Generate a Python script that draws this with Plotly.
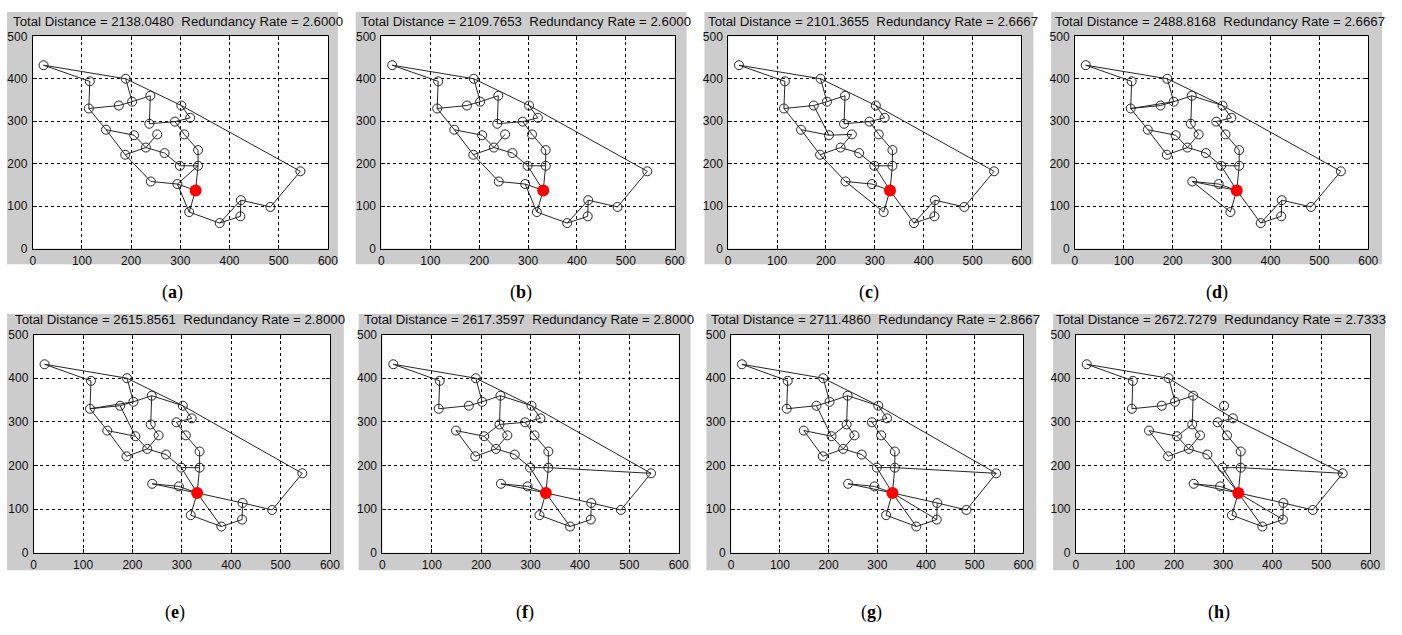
import plotly.graph_objects as go

W, H = 1402, 635

# Node coordinates (shared by all panels); index 23 is the depot (red)
node_x = [22, 116, 189, 114, 175, 202, 239, 302, 320, 237, 289, 149, 206, 253, 308,
          230, 268, 336, 188, 299, 336, 240, 294, 331, 318, 380, 422, 423, 483, 544]
node_y = [432, 394, 400, 330, 337, 346, 360, 337, 308, 294, 299, 280, 267, 269, 269,
          238, 225, 232, 221, 195, 195, 158, 152, 137, 86, 60, 76, 114, 98, 182]
DEPOT = 23

panel_labels = ["a", "b", "c", "d", "e", "f", "g", "h"]
total_distance = ["2138.0480", "2109.7653", "2101.3655", "2488.8168",
                  "2615.8561", "2617.3597", "2711.4860", "2672.7279"]
redundancy_rate = ["2.6000", "2.6000", "2.6667", "2.6667",
                   "2.8000", "2.8000", "2.8667", "2.7333"]

edges_a = [(0, 1), (0, 2), (2, 7), (7, 29), (1, 3), (3, 4), (4, 5), (5, 2), (5, 6), (6, 9),
           (9, 10), (10, 8), (8, 7), (10, 14), (14, 17), (17, 20), (20, 19), (20, 23), (22, 20),
           (3, 11), (11, 18), (11, 12), (12, 15), (13, 15), (18, 15), (15, 16), (16, 19),
           (18, 21), (21, 22), (22, 23), (22, 24), (23, 24), (24, 25), (25, 27), (25, 26),
           (26, 27), (27, 28), (28, 29)]
edges_b = [(0, 1), (0, 2), (2, 7), (7, 29), (1, 3), (3, 4), (4, 5), (5, 2), (5, 6), (6, 9),
           (9, 10), (10, 8), (8, 7), (10, 14), (14, 17), (17, 20), (20, 19), (20, 23), (19, 23),
           (3, 11), (11, 18), (11, 12), (12, 15), (13, 15), (18, 15), (15, 16), (16, 19),
           (18, 21), (21, 22), (22, 23), (22, 24), (23, 24), (24, 25), (25, 27), (25, 26),
           (26, 27), (27, 28), (28, 29)]
edges_c = [(0, 1), (0, 2), (2, 7), (7, 29), (1, 3), (3, 4), (4, 5), (5, 2), (5, 6), (6, 9),
           (9, 10), (10, 8), (8, 7), (10, 14), (14, 17), (17, 20), (20, 19), (20, 23),
           (3, 11), (11, 12), (4, 12), (13, 15), (12, 13), (11, 18), (18, 15), (15, 16),
           (16, 19), (19, 23), (18, 21), (21, 24), (21, 22), (22, 23), (23, 24), (23, 25),
           (25, 27), (25, 26), (26, 27), (27, 28), (28, 29)]
edges_d = [(0, 1), (0, 2), (2, 7), (7, 29), (1, 3), (3, 4), (4, 5), (3, 5), (5, 2), (5, 6),
           (6, 7), (6, 9), (9, 13), (13, 15), (11, 12), (12, 15), (3, 11), (11, 18), (18, 15),
           (15, 16), (16, 19), (19, 23), (10, 8), (8, 7), (10, 14), (14, 17), (17, 20), (19, 20),
           (20, 23), (21, 22), (21, 23), (22, 23), (21, 24), (23, 24), (23, 25), (25, 27),
           (25, 26), (26, 27), (27, 28), (28, 29)]
edges_e = [(0, 1), (0, 2), (2, 7), (7, 29), (2, 5), (1, 3), (3, 4), (3, 5), (4, 5), (4, 12),
           (5, 6), (6, 9), (6, 7), (7, 8), (8, 10), (10, 14), (14, 17), (17, 20), (20, 19),
           (20, 23), (16, 19), (19, 23), (9, 13), (13, 15), (12, 15), (11, 12), (3, 11),
           (11, 18), (18, 15), (15, 16), (21, 22), (21, 23), (22, 23), (23, 24), (23, 25),
           (24, 25), (23, 27), (27, 28), (27, 26), (26, 25), (28, 29)]
edges_f = [(0, 1), (0, 2), (2, 7), (7, 29), (1, 3), (3, 4), (4, 5), (5, 2), (5, 6), (6, 9),
           (6, 7), (7, 8), (9, 10), (10, 8), (10, 14), (14, 17), (17, 20), (19, 20), (20, 29),
           (20, 23), (9, 12), (9, 13), (11, 12), (11, 18), (18, 15), (12, 15), (13, 15),
           (15, 16), (16, 19), (19, 23), (21, 22), (21, 23), (22, 23), (23, 24), (23, 25),
           (24, 25), (23, 27), (27, 28), (27, 26), (26, 25), (28, 29)]
edges_g = [(0, 1), (0, 2), (2, 7), (7, 29), (1, 3), (3, 4), (4, 5), (5, 2), (5, 6), (6, 9),
           (6, 7), (7, 8), (4, 12), (9, 12), (9, 13), (11, 12), (11, 18), (18, 15), (12, 15),
           (13, 15), (15, 16), (16, 19), (19, 23), (10, 8), (10, 14), (14, 17), (17, 20),
           (20, 19), (20, 29), (20, 23), (21, 22), (21, 23), (22, 23), (23, 24), (23, 25),
           (24, 25), (23, 27), (23, 26), (27, 28), (27, 26), (26, 25), (28, 29)]
edges_h = [(0, 1), (0, 2), (2, 5), (2, 8), (8, 29), (1, 3), (3, 4), (4, 5), (5, 6), (6, 9),
           (9, 12), (9, 13), (11, 12), (11, 18), (18, 15), (12, 15), (13, 15), (15, 16),
           (16, 23), (10, 8), (10, 14), (14, 17), (17, 20), (20, 19), (20, 29), (20, 23),
           (19, 23), (21, 22), (21, 23), (22, 23), (23, 24), (24, 25), (23, 25), (23, 26),
           (23, 27), (27, 26), (26, 25), (27, 28), (28, 29)]
all_edges = [edges_a, edges_b, edges_c, edges_d, edges_e, edges_f, edges_g, edges_h]

# Layout geometry (pixels)
plot_boxes = [(30, 328, 30, 247), (382, 678, 30, 247), (732, 1028, 30, 247), (1082, 1378, 30, 247),
              (31, 330, 335, 558), (383, 682, 335, 558), (735, 1030, 335, 558), (1083, 1380, 335, 558)]
gray_boxes = [(4, 338, 5, 263), (356, 690, 5, 263), (708, 1040, 5, 263), (1058, 1392, 5, 263),
              (4, 344, 314, 576), (359, 694, 314, 576), (710, 1043, 314, 576), (1060, 1395, 314, 576)]

def px(x):
    return x / W

def py(y):
    return 1 - y / H

fig = go.Figure()
shapes = []
white_shapes = []
annotations = []
GRAY = "rgb(204,204,204)"
tickfont = dict(family="Arial", size=12, color="#111")

for i in range(8):
    n = i + 1
    xa = "x" if n == 1 else f"x{n}"
    ya = "y" if n == 1 else f"y{n}"
    ex, ey = [], []
    for a, b in all_edges[i]:
        ex += [node_x[a], node_x[b], None]
        ey += [node_y[a], node_y[b], None]
    fig.add_trace(go.Scatter(x=ex, y=ey, mode="lines", line=dict(color="#262626", width=1),
                             xaxis=xa, yaxis=ya, showlegend=False, hoverinfo="skip"))
    ox = [node_x[k] for k in range(len(node_x)) if k != DEPOT]
    oy = [node_y[k] for k in range(len(node_y)) if k != DEPOT]
    fig.add_trace(go.Scatter(x=ox, y=oy, mode="markers",
                             marker=dict(symbol="circle-open", size=9, color="#262626",
                                         line=dict(width=1)),
                             xaxis=xa, yaxis=ya, showlegend=False))
    fig.add_trace(go.Scatter(x=[node_x[DEPOT]], y=[node_y[DEPOT]], mode="markers",
                             marker=dict(symbol="circle", size=12, color="red"),
                             xaxis=xa, yaxis=ya, showlegend=False))

    x0, x1, y0, y1 = plot_boxes[i]
    axis_common = dict(showline=True, linecolor="black", linewidth=1, mirror="ticks",
                       ticks="inside", ticklen=4, tickcolor="black",
                       showgrid=True, gridcolor="black", gridwidth=1, griddash="3px,3px",
                       zeroline=False, tickfont=tickfont, fixedrange=True)
    fig.update_layout(**{
        ("xaxis" if n == 1 else f"xaxis{n}"): dict(domain=[px(x0), px(x1)], range=[0, 600],
                                                   tickvals=[0, 100, 200, 300, 400, 500, 600],
                                                   anchor=ya, ticklabelstandoff=1, **axis_common),
        ("yaxis" if n == 1 else f"yaxis{n}"): dict(domain=[py(y1), py(y0)], range=[0, 500],
                                                   tickvals=[0, 100, 200, 300, 400, 500],
                                                   anchor=xa, ticklabelstandoff=2, **axis_common),
    })

    gx0, gx1, gy0, gy1 = gray_boxes[i]
    shapes.append(dict(type="rect", xref="paper", yref="paper", x0=px(gx0), x1=px(gx1),
                       y0=py(gy1), y1=py(gy0), fillcolor=GRAY, line=dict(width=0), layer="below"))
    white_shapes.append(dict(type="rect", xref="paper", yref="paper", x0=px(x0), x1=px(x1),
                             y0=py(y1), y1=py(y0), fillcolor="white", line=dict(width=0),
                             layer="below"))
    annotations.append(dict(xref="paper", yref="paper", x=px((x0 + x1) / 2 - 2),
                            y=py(y0 - 15), yanchor="middle", xanchor="center", showarrow=False,
                            text=f"Total Distance = {total_distance[i]}  Redundancy Rate = {redundancy_rate[i]}",
                            font=dict(family="Liberation Sans", size=13.25, color="#111")))
    cy = 292 if i < 4 else 619
    annotations.append(dict(xref="paper", yref="paper", x=px((gx0 + gx1) / 2), y=py(cy),
                            yanchor="middle", xanchor="center", showarrow=False,
                            text=f"(<b>{panel_labels[i]}</b>)",
                            font=dict(family="Liberation Serif", size=18, color="black")))

fig.update_layout(width=W, height=H, margin=dict(l=0, r=0, t=0, b=0, pad=0),
                  paper_bgcolor="white", plot_bgcolor="white",
                  shapes=shapes + white_shapes, annotations=annotations, showlegend=False)

fig.write_html("out.html")
